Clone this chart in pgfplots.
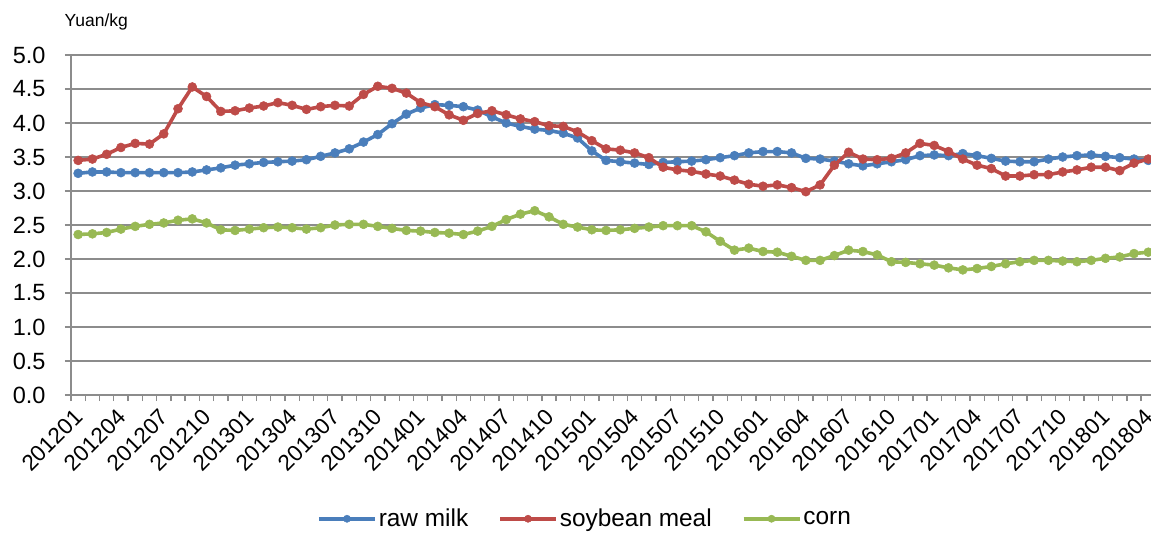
\documentclass[border=0pt]{standalone}
\usepackage{fontspec}
\setmainfont{Liberation Sans}
\usepackage{pgfplots}
\usepackage{pgfplotstable}
\pgfplotsset{compat=1.18}
\definecolor{cmilk}{HTML}{4A7EBB}
\definecolor{csoy}{HTML}{BE4B48}
\definecolor{ccorn}{HTML}{98B954}
\definecolor{cgrid}{HTML}{8C8C8C}

\pgfplotstableread{
i milk soy corn
0 3.26 3.45 2.36
1 3.28 3.47 2.37
2 3.28 3.54 2.39
3 3.27 3.64 2.44
4 3.27 3.70 2.48
5 3.27 3.69 2.51
6 3.27 3.84 2.53
7 3.27 4.21 2.57
8 3.28 4.53 2.59
9 3.31 4.39 2.53
10 3.34 4.17 2.43
11 3.38 4.18 2.42
12 3.40 4.22 2.44
13 3.42 4.25 2.46
14 3.43 4.30 2.47
15 3.44 4.26 2.46
16 3.46 4.20 2.44
17 3.51 4.24 2.46
18 3.56 4.26 2.50
19 3.62 4.25 2.51
20 3.72 4.42 2.51
21 3.83 4.54 2.48
22 3.99 4.51 2.45
23 4.13 4.44 2.42
24 4.22 4.30 2.41
25 4.27 4.24 2.39
26 4.26 4.12 2.38
27 4.24 4.04 2.36
28 4.19 4.14 2.41
29 4.09 4.18 2.48
30 4.00 4.12 2.58
31 3.95 4.06 2.66
32 3.91 4.02 2.71
33 3.89 3.96 2.62
34 3.85 3.95 2.51
35 3.78 3.87 2.47
36 3.59 3.74 2.43
37 3.45 3.62 2.42
38 3.43 3.60 2.43
39 3.41 3.56 2.45
40 3.39 3.49 2.47
41 3.42 3.35 2.49
42 3.43 3.31 2.49
43 3.44 3.29 2.49
44 3.46 3.25 2.40
45 3.49 3.22 2.26
46 3.52 3.16 2.13
47 3.56 3.10 2.16
48 3.58 3.07 2.11
49 3.58 3.09 2.10
50 3.56 3.05 2.04
51 3.48 2.99 1.98
52 3.47 3.09 1.98
53 3.44 3.38 2.05
54 3.40 3.57 2.13
55 3.37 3.47 2.11
56 3.40 3.46 2.06
57 3.43 3.48 1.96
58 3.46 3.56 1.95
59 3.52 3.70 1.93
60 3.53 3.67 1.91
61 3.52 3.58 1.87
62 3.55 3.47 1.84
63 3.52 3.38 1.86
64 3.48 3.33 1.89
65 3.44 3.22 1.93
66 3.43 3.22 1.96
67 3.43 3.24 1.98
68 3.47 3.24 1.98
69 3.50 3.28 1.97
70 3.52 3.31 1.96
71 3.53 3.35 1.98
72 3.51 3.35 2.01
73 3.49 3.30 2.03
74 3.47 3.41 2.08
75 3.45 3.47 2.10
}\prices

\begin{document}
\begin{tikzpicture}
\useasboundingbox (-71pt,-138pt) rectangle (1080pt,395pt);
\begin{axis}[
  at={(0pt,0pt)}, anchor=south west,
  scale only axis, width=1084.5pt, height=340pt,
  xmin=-0.5, xmax=75.5, ymin=0, ymax=5,
  clip mode=individual,
  axis lines*=left,
  axis line style={cgrid, line width=1.3pt},
  tick style={cgrid, line width=1.3pt},
  tick align=outside,
  major tick length=6pt,
  ymajorgrids,
  grid style={cgrid, line width=1.3pt},
  ytick={0,0.5,...,5.01},
  yticklabel style={xshift=-16pt, /pgf/number format/.cd, fixed, fixed zerofill, precision=1, assume math mode=true},
  ticklabel style={font=\fontsize{23.5}{26}\selectfont, text=black},
  xtick={-0.5,0.5,...,75.6},
  xticklabels={},
  extra x ticks={0,3,...,75},
  extra x tick labels={201201,201204,201207,201210,201301,201304,201307,201310,201401,201404,201407,201410,201501,201504,201507,201510,201601,201604,201607,201610,201701,201704,201707,201710,201801,201804},
  extra x tick style={major tick length=0pt, xticklabel style={xshift=3pt, yshift=-16pt, rotate=45, anchor=east, font=\fontsize{22.5}{24}\selectfont, /pgf/number format/assume math mode=true}},
  legend style={at={(0.474,-0.364)}, anchor=center, draw=none, font=\fontsize{24.4}{27}\selectfont, legend columns=3, /tikz/every even column/.append style={column sep=28pt}},
  legend image code/.code={\draw[#1, mark=none] (0pt,0pt) -- (56pt,0pt); \draw[#1, only marks, mark size=3.6pt] plot coordinates {(28pt,0pt)};},
  every axis plot/.append style={line width=3.6pt, mark=*, mark size=4.5pt, mark options={line width=0.5pt}},
]
\addplot[color=cmilk] table[x=i, y=milk] {\prices};
\addlegendentry{raw milk}
\addplot[color=csoy] table[x=i, y=soy] {\prices};
\addlegendentry{soybean meal}
\addplot[color=ccorn] table[x=i, y=corn] {\prices};
\addlegendentry{corn}
\node[anchor=west, inner sep=0pt, font=\fontsize{17.5}{20}\selectfont] at (rel axis cs:-0.006,1.097) {Yuan/kg};
\end{axis}
\end{tikzpicture}
\end{document}
